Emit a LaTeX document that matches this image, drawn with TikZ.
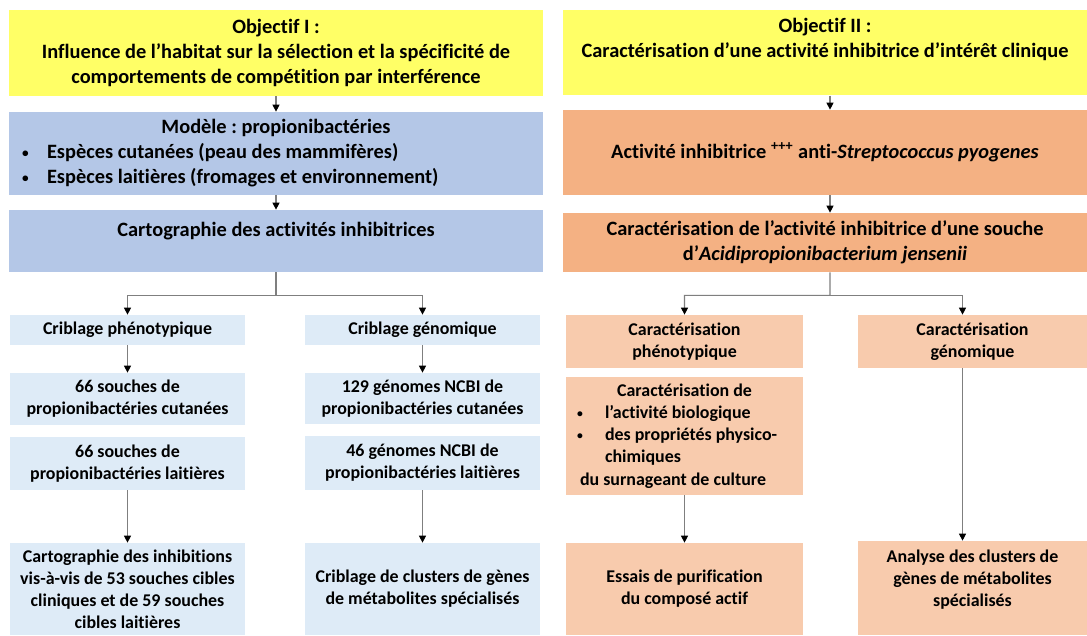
\documentclass[tikz,border=0pt]{standalone}
\usepackage{fontspec}
\setmainfont{Carlito}[RawFeature={-liga;-clig;-calt;-dlig}]
\usepackage{xcolor}
\usepackage{tikz}
\usetikzlibrary{arrows.meta, positioning, calc}
\frenchspacing

\definecolor{jaune}{HTML}{FFFF66}
\definecolor{bleufonce}{HTML}{B4C7E7}
\definecolor{bleuclair}{HTML}{DEEBF7}
\definecolor{orangefonce}{HTML}{F4B183}
\definecolor{orangeclair}{HTML}{F8CBAD}
\definecolor{trait}{HTML}{7F7F7F}

\newcommand{\puce}{\raisebox{0.15ex}{\scalebox{0.65}{\textbullet}}}

\begin{document}
\begin{tikzpicture}[
  x=0.02cm, y=-0.02cm,
  box/.style={rectangle, inner sep=0pt, align=center, font=\bfseries\fontsize{11.6}{14.2}\selectfont},
  petit/.style={box, font=\bfseries\fontsize{10.2}{12.6}\selectfont},
  objectif/.style={box, fill=jaune, minimum height=1.71cm},
  bleuG/.style={box, fill=bleufonce, minimum width=10.68cm},
  bleuP/.style={petit, fill=bleuclair, minimum width=4.7cm},
  orangeG/.style={box, fill=orangefonce, minimum width=10.48cm},
  orangeP/.style={petit, fill=orangeclair},
  arrow/.style={-{Triangle[length=4pt, width=4pt, black]}, draw=trait, line width=0.6pt}
]
\fill[white] (0,0) rectangle (1087,635);
\useasboundingbox (0,0) rectangle (1087,635);

% Objectif I
\node[objectif, minimum width=10.68cm] (obj1) at (276, 53) {Objectif I :\\ Influence de l’habitat sur la sélection et la spécificité de\\ comportements de compétition par interférence};
\node[bleuG, minimum height=1.66cm, text width=10.68cm, align=flush left] (modele) at (276, 153.5) {{\centering Modèle : propionibactéries\par}
  \hspace*{0.26cm}\makebox[0.5cm][l]{\puce}Espèces cutanées (peau des mammifères)\par
  \hspace*{0.26cm}\makebox[0.5cm][l]{\puce}Espèces laitières (fromages et environnement)};
\node[bleuG, minimum height=1.24cm, text depth=0.46cm] (cartoAct) at (276, 241) {Cartographie des activités inhibitrices};
\draw[arrow] (obj1) -- (modele);
\draw[arrow] (modele) -- (cartoAct);

\node[bleuP, minimum height=0.6cm] (cribPheno) at (127.5, 330) {Criblage phénotypique};
\node[bleuP, minimum height=1.04cm] (soucheCut) at (127.5, 399) {66 souches de\\ propionibactéries cutanées};
\node[bleuP, minimum height=1.06cm] (soucheLait) at (127.5, 463.5) {66 souches de\\ propionibactéries laitières};
\node[bleuP, minimum height=1.84cm] (cartoInhib) at (127.5, 589) {Cartographie des inhibitions\\ vis-à-vis de 53 souches cibles\\ cliniques et de 59 souches\\ cibles laitières};

\node[bleuP, minimum height=0.6cm] (cribGeno) at (422.5, 330) {Criblage génomique};
\node[bleuP, minimum height=1.02cm] (genCut) at (422.5, 398.5) {129 génomes NCBI de\\ propionibactéries cutanées};
\node[bleuP, minimum height=1.08cm] (genLait) at (422.5, 463) {46 génomes NCBI de\\ propionibactéries laitières};
\node[bleuP, minimum height=1.84cm] (cribClust) at (422.5, 589) {Criblage de clusters de gènes\\ de métabolites spécialisés};

\coordinate (brancheG) at ($(cartoAct.south)+(0,23)$);
\draw[arrow] (cartoAct.south) -- (brancheG) -| (cribPheno.north);
\draw[arrow] (brancheG) -| (cribGeno.north);
\draw[arrow] (cribPheno) -- (soucheCut);
\draw[arrow] (soucheLait) -- (cartoInhib);
\draw[arrow] (cribGeno) -- (genCut);
\draw[arrow] (genLait) -- (cribClust);

% Objectif II
\node[objectif, minimum width=10.48cm, text depth=0.57cm] (obj2) at (825, 52.5) {Objectif II :\\ Caractérisation d’une activité inhibitrice d’intérêt clinique};
\node[orangeG, minimum height=1.7cm] (activite) at (825, 152.5) {Activité inhibitrice \textsuperscript{+++} anti-\textit{Streptococcus pyogenes}};
\node[orangeG, minimum height=1.18cm] (souche) at (825, 242.5) {Caractérisation de l’activité inhibitrice d’une souche\\ d’\textit{Acidipropionibacterium jensenii}};
\draw[arrow] ([xshift=0.1cm]obj2.south) -- ([xshift=0.1cm]activite.north);
\draw[arrow] ([xshift=0.1cm]activite.south) -- ([xshift=0.1cm]souche.north);

\node[orangeP, minimum width=4.74cm, minimum height=1.06cm] (carPheno) at (684.5, 341.5) {Caractérisation\\ phénotypique};
\node[orangeP, minimum width=4.74cm, minimum height=2.36cm, text width=4.74cm, align=flush left] (carBio) at (684.5, 436) {{\centering Caractérisation de\par}
  \hspace*{0.22cm}\makebox[0.56cm][l]{\puce}l’activité biologique\par
  \hspace*{0.22cm}\makebox[0.56cm][l]{\puce}des propriétés physico-\par
  \hspace*{0.78cm}chimiques\par
  \hspace*{0.28cm}du surnageant de culture};
\node[orangeP, minimum width=4.74cm, minimum height=1.84cm] (essais) at (684.5, 589) {Essais de purification\\ du composé actif};

\node[orangeP, minimum width=4.58cm, minimum height=1.06cm] (carGeno) at (972.5, 341.5) {Caractérisation\\ génomique};
\node[orangeP, minimum width=4.58cm, minimum height=1.88cm, text depth=0.38cm] (analyse) at (972.5, 588) {Analyse des clusters de\\ gènes de métabolites\\ spécialisés};

\coordinate (brancheD) at ($(souche.south)+(5,23)$);
\draw[arrow] ([xshift=0.1cm]souche.south) -- (brancheD) -| (carPheno.north);
\draw[arrow] (brancheD) -| ([xshift=-0.2cm]carGeno.north);
\draw[arrow] (carBio) -- (essais);
\draw[arrow] ([xshift=-0.2cm]carGeno.south) -- ([xshift=-0.2cm]analyse.north);

\end{tikzpicture}
\end{document}
